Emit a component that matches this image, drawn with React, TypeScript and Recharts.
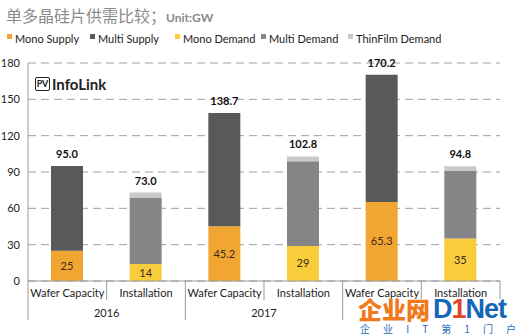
import React from "react";
import { BarChart, Bar, XAxis, YAxis, CartesianGrid, LabelList } from "recharts";

const categories = ["Wafer Capacity", "Installation", "Wafer Capacity", "Installation", "Wafer Capacity", "Installation"];
const years = ["2016", "2017", "2018"];
const monoSupply = [25, null, 45.2, null, 65.3, null];
const multiSupply = [70, null, 93.5, null, 104.9, null];
const monoDemand = [null, 14, null, 29, null, 35];
const multiDemand = [null, 55, null, 69.8, null, 56.3];
const thinFilm = [null, 4, null, 4, null, 3.5];
const totals = ["95.0", "73.0", "138.7", "102.8", "170.2", "94.8"];
const yTicks = [0, 30, 60, 90, 120, 150, 180];

const series = [
  { key: "monoSupply", name: "Mono Supply", color: "#F2A632" },
  { key: "multiSupply", name: "Multi Supply", color: "#59585B" },
  { key: "monoDemand", name: "Mono Demand", color: "#F8CD3C" },
  { key: "multiDemand", name: "Multi Demand", color: "#858486" },
  { key: "thinFilm", name: "ThinFilm Demand", color: "#C9C9C9" },
];
const legendLeft = [7, 90, 175, 261, 348];

const data = categories.map((c, i) => ({
  name: c,
  monoSupply: monoSupply[i],
  multiSupply: multiSupply[i],
  monoDemand: monoDemand[i],
  multiDemand: multiDemand[i],
  thinFilm: thinFilm[i],
  waferTotal: multiSupply[i] != null ? totals[i] : null,
  installTotal: thinFilm[i] != null ? totals[i] : null,
}));

const LEFT = 28;
const RIGHT = 500;
const AXIS_Y = 281;
const CAT_W = (RIGHT - LEFT) / categories.length;
const FONT = "Lato, 'Open Sans', sans-serif";

const CatTick = ({ x, payload, index }: any) => {
  const left = x - CAT_W / 2;
  const right = x + CAT_W / 2;
  return (
    <g>
      <line x1={left} x2={left} y1={AXIS_Y} y2={index % 2 === 0 ? 320 : 300} stroke="#9a9a9a" />
      {index === categories.length - 1 && (
        <line x1={right} x2={right} y1={AXIS_Y} y2={320} stroke="#9a9a9a" />
      )}
      <text x={x} y={297} textAnchor="middle" fontSize={11} fill="#222" fontFamily={FONT}>
        {payload.value}
      </text>
      {index % 2 === 1 && (
        <text x={left} y={317} textAnchor="middle" fontSize={11} fill="#222" fontFamily={FONT}>
          {years[(index - 1) / 2]}
        </text>
      )}
    </g>
  );
};

const TotalLabel = (props: any) => {
  const { x, y, width, value } = props;
  if (value == null) return null;
  return (
    <text x={x + width / 2} y={y - 8} textAnchor="middle" fontSize={11} fontWeight={700} fill="#111" fontFamily={FONT}>
      {value}
    </text>
  );
};

const InnerLabel = (props: any) => {
  const { x, y, width, height, value } = props;
  if (value == null) return null;
  return (
    <text x={x + width / 2} y={y + height / 2 + 4} textAnchor="middle" fontSize={11} fill="#3a2a12" fontFamily={FONT}>
      {value}
    </text>
  );
};

export default function App() {
  return (
    <div style={{ position: "absolute", left: 0, top: 0, width: 518, height: 336, background: "#fff", overflow: "hidden" }}>
      <div style={{ position: "absolute", left: 6, top: 4, color: "#8a8a8a", fontFamily: "'Noto Sans CJK SC', sans-serif", fontSize: 16, lineHeight: "22px", whiteSpace: "nowrap" }}>
        单多晶硅片供需比较；<span style={{ fontSize: 12, fontWeight: 700, fontFamily: FONT }}>Unit:GW</span>
      </div>
      {series.map((s, i) => (
        <div key={s.key} style={{ position: "absolute", left: legendLeft[i], top: 32, display: "flex", alignItems: "flex-start", fontFamily: FONT, fontSize: 11, color: "#222", whiteSpace: "nowrap" }}>
          <span style={{ width: 5, height: 5, background: s.color, marginTop: 2, marginRight: 3 }} />
          <span>{s.name}</span>
        </div>
      ))}
      <BarChart
        width={518}
        height={336}
        data={data}
        margin={{ top: 63, right: 18, bottom: 0, left: 0 }}
        barSize={32}
        style={{ position: "absolute", left: 0, top: 0 }}
      >
        <CartesianGrid vertical={false} strokeDasharray="8 5" stroke="#a0a0a0" />
        <YAxis
          width={28}
          domain={[0, 180]}
          ticks={yTicks}
          tickLine={false}
          axisLine={{ stroke: "#9a9a9a" }}
          tick={{ fontSize: 11, fill: "#222", fontFamily: FONT }}
        />
        <XAxis
          dataKey="name"
          height={55}
          interval={0}
          tickLine={false}
          axisLine={{ stroke: "#9a9a9a" }}
          tick={(p: any) => <CatTick {...p} />}
        />
        {series.map((s) => (
          <Bar key={s.key} dataKey={s.key} name={s.name} stackId="a" fill={s.color} isAnimationActive={false}>
            {(s.key === "monoSupply" || s.key === "monoDemand") && (
              <LabelList dataKey={s.key} content={InnerLabel} />
            )}
            {s.key === "multiSupply" && <LabelList dataKey="waferTotal" content={TotalLabel} />}
            {s.key === "thinFilm" && <LabelList dataKey="installTotal" content={TotalLabel} />}
          </Bar>
        ))}
      </BarChart>
      <div style={{ position: "absolute", left: 35, top: 75, display: "flex", alignItems: "center", fontFamily: FONT }}>
        <span style={{ border: "1.5px solid #222", borderRadius: 2, width: 13, height: 12, fontSize: 9, fontWeight: 700, lineHeight: "12px", textAlign: "center", color: "#222" }}>PV</span>
        <span style={{ fontSize: 15, fontWeight: 700, marginLeft: 2, color: "#222" }}>InfoLink</span>
      </div>
      <div style={{ position: "absolute", left: 356, top: 299, width: 162, height: 37, background: "#fff" }} />
      <div style={{ position: "absolute", left: 358, top: 296, display: "flex", alignItems: "center", whiteSpace: "nowrap" }}>
        <span style={{ color: "#F07A1A", fontFamily: "'Noto Sans CJK SC', sans-serif", fontSize: 24, fontWeight: 900, lineHeight: "26px" }}>企业网</span>
        <span style={{ color: "#1466B8", fontFamily: "'Liberation Sans', sans-serif", fontSize: 27, fontWeight: 700, lineHeight: "26px", marginLeft: 3, letterSpacing: -1 }}>
          D<span style={{ color: "#E0452A" }}>1</span>Net
        </span>
      </div>
      <div style={{ position: "absolute", left: 360, top: 323, width: 156, display: "flex", justifyContent: "space-between", color: "#2a6db8", fontFamily: "'Noto Sans CJK SC', sans-serif", fontSize: 10, lineHeight: "12px" }}>
        {["企", "业", "I", "T", "第", "1", "门", "户"].map((c, i) => (
          <span key={i}>{c}</span>
        ))}
      </div>
    </div>
  );
}
